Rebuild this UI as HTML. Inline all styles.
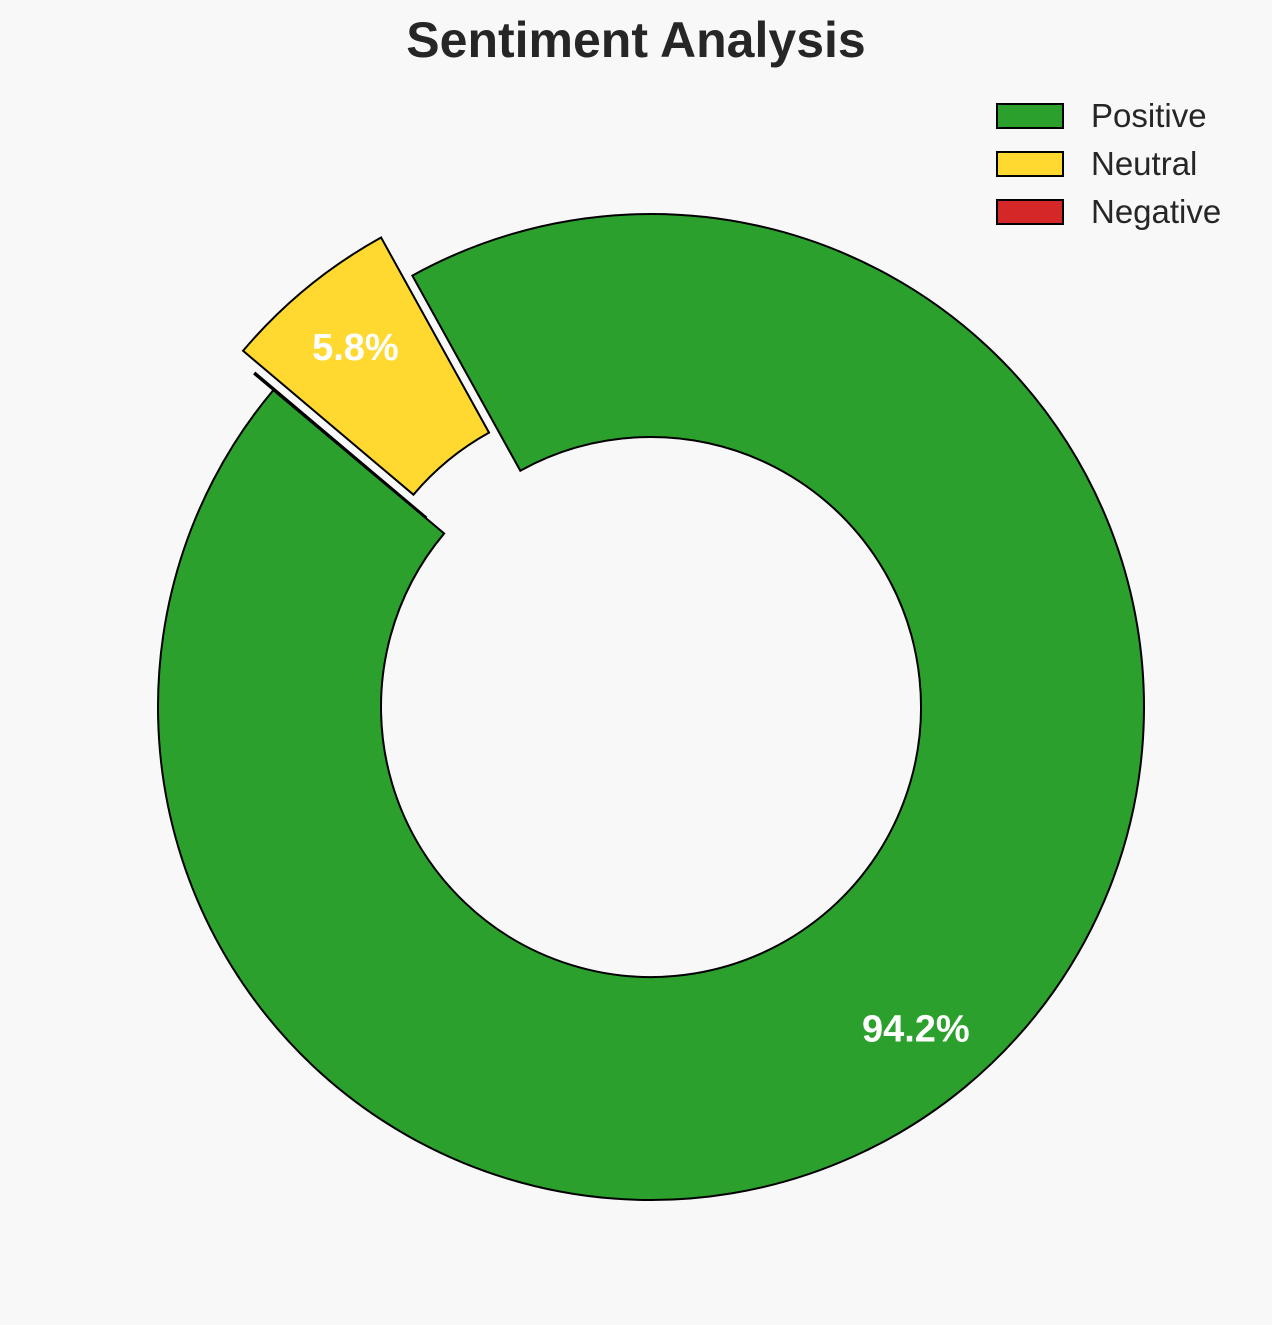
<!DOCTYPE html>
<html><head><meta charset="utf-8"><style>
html,body{margin:0;padding:0;background:#f8f8f8;}
svg{display:block;font-family:"Liberation Sans",Arial,sans-serif;}
</style></head><body>
<svg id="chart" width="1272" height="1325" viewBox="0 0 1272 1325">
<rect width="1272" height="1325" fill="#f8f8f8"/>
<text x="636" y="57" text-anchor="middle" font-size="50" font-weight="bold" fill="#262626">Sentiment Analysis</text>
<g id="wedges"></g>
<g id="legend"></g>
</svg>
<script>
const categories = ["Positive", "Neutral", "Negative"];
const values = [94.2, 5.8, 0.05];
const explodes = [0, 0.1, 0.05];
const colors = ["#2ca02c", "#ffd92f", "#d62728"];

const NS = "http://www.w3.org/2000/svg";
const cx = 651, cy = 707, R = 493, r = 270, startAngle = 140, pctDist = 0.845;
const total = values.reduce((a, b) => a + b, 0);
const wg = document.getElementById("wedges");
function pt(rad, deg, ox, oy) {
  const a = deg * Math.PI / 180;
  return [cx + ox + rad * Math.cos(a), cy + oy - rad * Math.sin(a)];
}
let ang = startAngle;
values.forEach((v, i) => {
  const sweep = v / total * 360;
  const a0 = ang, a1 = ang + sweep, mid = (a0 + a1) / 2;
  const m = mid * Math.PI / 180;
  const ox = explodes[i] * R * Math.cos(m), oy = -explodes[i] * R * Math.sin(m);
  const p0 = pt(R, a0, ox, oy), p1 = pt(R, a1, ox, oy), q1 = pt(r, a1, ox, oy), q0 = pt(r, a0, ox, oy);
  const large = sweep > 180 ? 1 : 0;
  const d = `M${p0[0]},${p0[1]} A${R},${R} 0 ${large} 0 ${p1[0]},${p1[1]} L${q1[0]},${q1[1]} A${r},${r} 0 ${large} 1 ${q0[0]},${q0[1]} Z`;
  const path = document.createElementNS(NS, "path");
  path.setAttribute("d", d);
  path.setAttribute("fill", colors[i]);
  path.setAttribute("stroke", "#000");
  path.setAttribute("stroke-width", "2");
  
  
  wg.appendChild(path);
  const pct = v / total * 100;
  if (pct >= 1) {
    const lp = pt(R * pctDist, mid, ox, oy);
    const t = document.createElementNS(NS, "text");
    t.setAttribute("x", lp[0]);
    t.setAttribute("y", lp[1] + 13);
    t.setAttribute("text-anchor", "middle");
    t.setAttribute("font-size", "38");
    t.setAttribute("font-weight", "bold");
    t.setAttribute("fill", "#fff");
    t.textContent = pct.toFixed(1) + "%";
    
    
    wg.appendChild(t);
  }
  ang = a1;
});
const lg = document.getElementById("legend");
categories.forEach((c, i) => {
  const y = 104 + i * 48;
  const rc = document.createElementNS(NS, "rect");
  rc.setAttribute("x", 997); rc.setAttribute("y", y);
  rc.setAttribute("width", 66); rc.setAttribute("height", 24);
  rc.setAttribute("fill", colors[i]); rc.setAttribute("stroke", "#000"); rc.setAttribute("stroke-width", "2");
  
  
  lg.appendChild(rc);
  const t = document.createElementNS(NS, "text");
  t.setAttribute("x", 1091); t.setAttribute("y", y + 23);
  t.setAttribute("font-size", "33"); t.setAttribute("fill", "#262626");
  t.textContent = c;
  
  
  lg.appendChild(t);
});
</script>
</body></html>
